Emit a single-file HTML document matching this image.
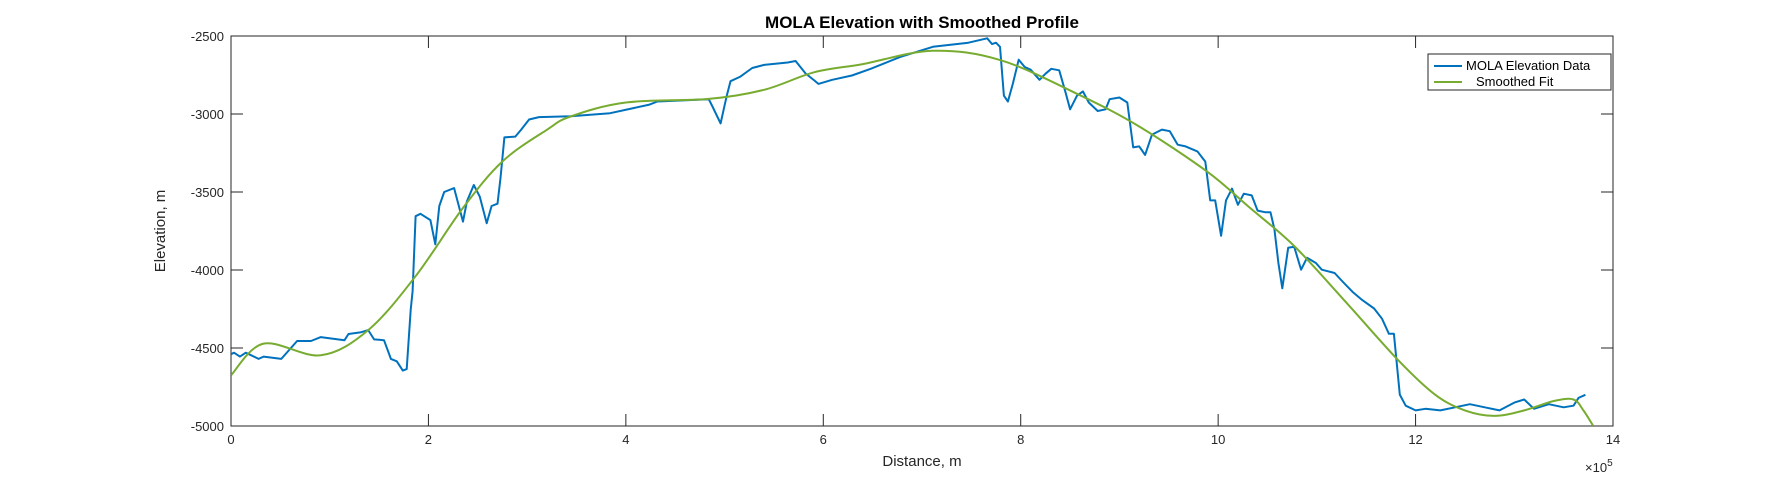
<!DOCTYPE html>
<html><head><meta charset="utf-8"><style>
body{margin:0;background:#fff;}
svg{display:block;font-family:"Liberation Sans",sans-serif;}
</style></head><body>
<svg id="chart" width="1782" height="479" viewBox="0 0 1782 479" xmlns="http://www.w3.org/2000/svg">
<rect x="0" y="0" width="1782" height="479" fill="#fff"/>
<text x="922" y="28" text-anchor="middle" font-size="17" font-weight="bold" fill="#000">MOLA Elevation with Smoothed Profile</text>
<g id="plot"></g>
<text x="922" y="466" text-anchor="middle" font-size="15" fill="#262626">Distance, m</text>
<text transform="translate(165,231) rotate(-90)" text-anchor="middle" font-size="15" fill="#262626">Elevation, m</text>
<text x="1585" y="472" font-size="13" fill="#262626">×10<tspan dy="-6" font-size="10">5</tspan></text>
<g>
<rect x="1428" y="54" width="183" height="36" fill="#fff" stroke="#262626" stroke-width="1"/>
<line x1="1434" y1="66" x2="1462" y2="66" stroke="#0072BD" stroke-width="2"/>
<text x="1466" y="70" font-size="13" fill="#000">MOLA Elevation Data</text>
<line x1="1434" y1="82" x2="1462" y2="82" stroke="#77AC30" stroke-width="2"/>
<text x="1476" y="86" font-size="13" fill="#000">Smoothed Fit</text>
</g>
</svg>
<script>
const xTicks=[0,2,4,6,8,10,12,14];
const yTicks=[-2500,-3000,-3500,-4000,-4500,-5000];
const blueX=[0,0.03,0.09,0.15,0.28,0.33,0.51,0.67,0.81,0.91,1.15,1.19,1.31,1.39,1.45,1.55,1.62,1.68,1.74,1.78,1.82,1.84,1.87,1.92,2.02,2.07,2.11,2.16,2.26,2.30,2.35,2.39,2.46,2.52,2.59,2.64,2.70,2.73,2.77,2.88,2.94,3.02,3.12,3.44,3.84,4.24,4.32,4.84,4.88,4.96,5.02,5.06,5.16,5.28,5.40,5.64,5.72,5.82,5.91,5.95,6.09,6.29,6.48,6.78,7.11,7.47,7.66,7.71,7.75,7.79,7.83,7.87,7.92,7.98,8.04,8.10,8.19,8.25,8.31,8.39,8.45,8.50,8.57,8.63,8.69,8.78,8.86,8.90,9.00,9.08,9.14,9.20,9.26,9.33,9.43,9.51,9.59,9.67,9.79,9.87,9.92,9.97,10.03,10.08,10.14,10.20,10.26,10.34,10.40,10.48,10.53,10.57,10.61,10.65,10.71,10.77,10.84,10.90,10.99,11.05,11.18,11.26,11.36,11.46,11.58,11.66,11.73,11.78,11.84,11.9,12.0,12.1,12.25,12.4,12.55,12.7,12.85,13.0,13.1,13.2,13.35,13.5,13.6,13.65,13.72];
const blueY=[-4540,-4530,-4555,-4530,-4570,-4555,-4570,-4455,-4455,-4430,-4450,-4410,-4400,-4385,-4445,-4450,-4570,-4585,-4645,-4635,-4255,-4135,-3655,-3640,-3680,-3835,-3590,-3500,-3475,-3570,-3690,-3560,-3455,-3530,-3700,-3590,-3575,-3410,-3150,-3145,-3100,-3035,-3020,-3015,-2995,-2940,-2920,-2905,-2955,-3060,-2890,-2790,-2760,-2705,-2685,-2670,-2660,-2740,-2785,-2807,-2781,-2753,-2710,-2634,-2569,-2543,-2515,-2552,-2543,-2569,-2883,-2920,-2807,-2652,-2699,-2716,-2781,-2742,-2710,-2720,-2851,-2970,-2883,-2855,-2926,-2981,-2970,-2905,-2894,-2926,-3214,-3208,-3262,-3132,-3100,-3110,-3197,-3208,-3240,-3305,-3554,-3554,-3781,-3554,-3478,-3582,-3511,-3522,-3619,-3630,-3630,-3738,-3955,-4117,-3857,-3851,-3998,-3922,-3955,-3998,-4019,-4074,-4139,-4193,-4247,-4312,-4409,-4409,-4799,-4870,-4900,-4890,-4900,-4880,-4860,-4880,-4900,-4850,-4830,-4890,-4860,-4880,-4870,-4820,-4800];
const fitX=[0,0.33,0.91,1.39,1.87,2.35,2.75,3.2,3.44,4.0,4.84,5.4,5.91,6.4,7.11,7.8,8.61,9.2,9.89,10.3,10.77,11.3,11.83,12.2,12.5,12.8,13.1,13.4,13.6,13.7,13.8];
const fitY=[-4675,-4472,-4547,-4385,-4040,-3602,-3304,-3101,-3016,-2926,-2903,-2845,-2732,-2680,-2595,-2656,-2883,-3080,-3370,-3590,-3846,-4210,-4582,-4800,-4900,-4935,-4900,-4840,-4830,-4900,-5000];

const L=231,R=1613,T=36,B=426;
const xs=v=>L+(v-0)/(14-0)*(R-L);
const ys=v=>T+(-2500-v)/2500*(B-T);
const NS='http://www.w3.org/2000/svg';
const g=document.getElementById('plot');
function mk(t,a){const e=document.createElementNS(NS,t);for(const k in a)e.setAttribute(k,a[k]);g.appendChild(e);return e;}

const frame=mk('rect',{x:L,y:T,width:R-L,height:B-T,fill:'#fff',stroke:'#262626','stroke-width':1});



xTicks.forEach(t=>{
  const x=xs(t);
  const a=mk('line',{x1:x,y1:B,x2:x,y2:B-12,stroke:'#262626'});
  
  
  const b=mk('line',{x1:x,y1:T,x2:x,y2:T+12,stroke:'#262626'});
  
  
  const l=mk('text',{x:x,y:B+18,'text-anchor':'middle','font-size':13,fill:'#262626'});
  l.textContent=t;
  
  
});
yTicks.forEach(t=>{
  const y=ys(t);
  const a=mk('line',{x1:L,y1:y,x2:L+12,y2:y,stroke:'#262626'});
  
  
  const b=mk('line',{x1:R,y1:y,x2:R-12,y2:y,stroke:'#262626'});
  
  
  const l=mk('text',{x:L-7,y:y+5,'text-anchor':'end','font-size':13,fill:'#262626'});
  l.textContent=t;
  
  
});

const cp=mk('clipPath',{id:'clip'});
const cr=document.createElementNS(NS,'rect');
cr.setAttribute('x',L);cr.setAttribute('y',T);cr.setAttribute('width',R-L);cr.setAttribute('height',B-T);
cp.appendChild(cr);

const bp=blueX.map((v,i)=>xs(v).toFixed(1)+','+ys(blueY[i]).toFixed(1)).join(' ');
const blue=mk('polyline',{points:bp,fill:'none',stroke:'#0072BD','stroke-width':2,'stroke-linejoin':'round','clip-path':'url(#clip)'});



const P=fitX.map((v,i)=>[xs(v),ys(fitY[i])]);
let d='M'+P[0][0]+','+P[0][1];
for(let i=0;i<P.length-1;i++){
  const p0=P[Math.max(0,i-1)],p1=P[i],p2=P[i+1],p3=P[Math.min(P.length-1,i+2)];
  const c1x=p1[0]+(p2[0]-p0[0])/6,c1y=p1[1]+(p2[1]-p0[1])/6;
  const c2x=p2[0]-(p3[0]-p1[0])/6,c2y=p2[1]-(p3[1]-p1[1])/6;
  d+=` C${c1x.toFixed(1)},${c1y.toFixed(1)} ${c2x.toFixed(1)},${c2y.toFixed(1)} ${p2[0].toFixed(1)},${p2[1].toFixed(1)}`;
}
const green=mk('path',{d:d,fill:'none',stroke:'#77AC30','stroke-width':2,'clip-path':'url(#clip)'});


</script>
</body></html>
